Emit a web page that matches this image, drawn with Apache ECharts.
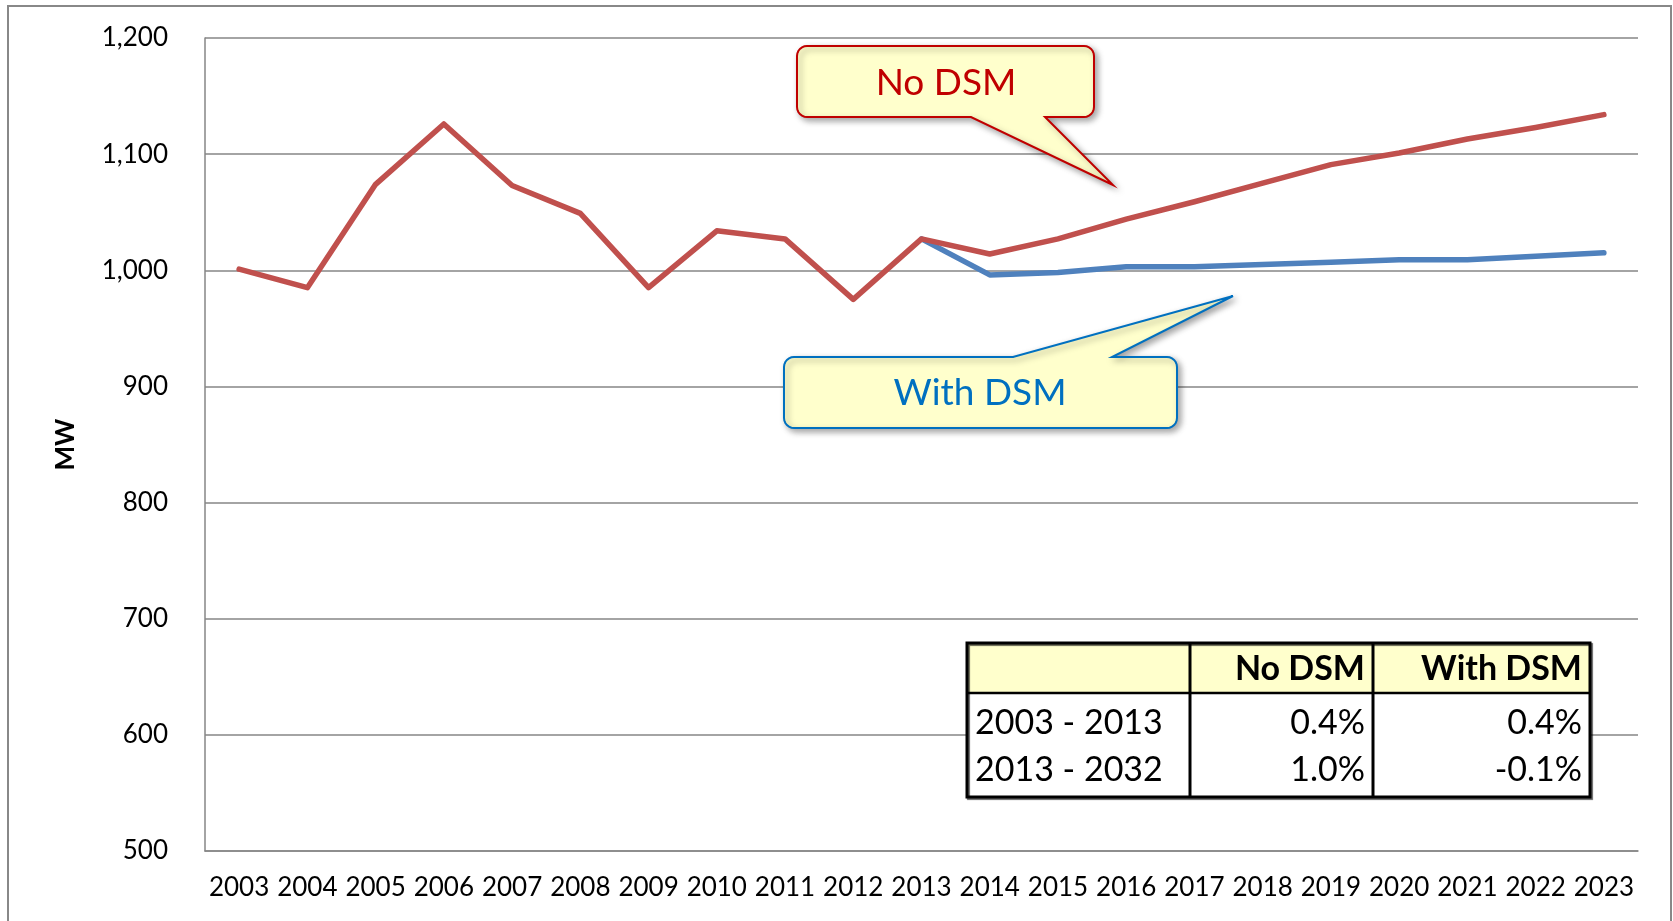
<!DOCTYPE html>
<html>
<head>
<meta charset="utf-8">
<script src="https://cdn.jsdelivr.net/npm/echarts@6/dist/echarts.min.js"></script>
<style>
html,body{margin:0;padding:0;background:#fff;}
#chart{width:1673px;height:921px;}
</style>
</head>
<body>
<div id="chart"></div>
<script>
// ---- data ----
const years = ['2003','2004','2005','2006','2007','2008','2009','2010','2011','2012','2013',
               '2014','2015','2016','2017','2018','2019','2020','2021','2022','2023'];
const noDsm = [1001, 985, 1074, 1126, 1073, 1049, 985, 1034, 1027, 975, 1027,
               1014, 1027, 1044, 1059, 1075, 1091, 1101, 1113, 1123, 1134];
const withDsm = [null, null, null, null, null, null, null, null, null, null, 1027,
                 996, 998, 1003, 1003, 1005, 1007, 1009, 1009, 1012, 1015];
const yMin = 500, yMax = 1200, yStep = 100;
const tableHeader = ['', 'No DSM', 'With DSM'];
const tableRows = [
  ['2003 - 2013', '0.4%', '0.4%'],
  ['2013 - 2032', '1.0%', '-0.1%']
];
const calloutNo = 'No DSM';
const calloutWith = 'With DSM';

// ---- chart ----
const FONT = 'Lato, "Open Sans", sans-serif';
const chart = echarts.init(document.getElementById('chart'), null, {renderer: 'canvas'});

function arcPts(cx, cy, r, a0, a1) {
  const pts = [];
  const n = 6;
  for (let i = 0; i <= n; i++) {
    const a = a0 + (a1 - a0) * i / n;
    pts.push([cx + r * Math.cos(a), cy + r * Math.sin(a)]);
  }
  return pts;
}
function calloutPts(x1, y1, x2, y2, r, tail) {
  let pts = [];
  const P = Math.PI;
  pts = pts.concat(arcPts(x1 + r, y1 + r, r, P, 1.5 * P));
  if (tail.side === 'top') {
    pts.push([tail.b1, y1], tail.tip, [tail.b2, y1]);
  }
  pts = pts.concat(arcPts(x2 - r, y1 + r, r, 1.5 * P, 2 * P));
  pts = pts.concat(arcPts(x2 - r, y2 - r, r, 0, 0.5 * P));
  if (tail.side === 'bottom') {
    pts.push([tail.b2, y2], tail.tip, [tail.b1, y2]);
  }
  pts = pts.concat(arcPts(x1 + r, y2 - r, r, 0.5 * P, P));
  return pts;
}

// table graphic
const colX = [967, 1190, 1373, 1590];
const rowTop = 643, rowHead = 693, rowBottom = 797;
const rowCenters = [723, 770];
const tableEls = [];
tableEls.push({type: 'rect', shape: {x: colX[0], y: rowTop, width: colX[3]-colX[0], height: rowHead-rowTop},
  style: {fill: '#FFFFCC'}, z: 100});
tableEls.push({type: 'rect', shape: {x: colX[0], y: rowHead, width: colX[3]-colX[0], height: rowBottom-rowHead},
  style: {fill: '#FFFFFF'}, z: 100});
for (let c = 1; c < 3; c++) {
  tableEls.push({type: 'text', z: 102, style: {text: tableHeader[c], x: colX[c+1]-8, y: (rowTop+rowHead)/2+1,
    align: 'right', verticalAlign: 'middle', font: 'bold 34px ' + FONT, fill: '#000'}});
}
tableRows.forEach((row, r) => {
  const cy = rowCenters[r];
  tableEls.push({type: 'text', z: 102, style: {text: row[0], x: colX[0]+8, y: cy,
    align: 'left', verticalAlign: 'middle', font: '34px ' + FONT, fill: '#000'}});
  for (let c = 1; c < 3; c++) {
    tableEls.push({type: 'text', z: 102, style: {text: row[c], x: colX[c+1]-8, y: cy,
      align: 'right', verticalAlign: 'middle', font: '34px ' + FONT, fill: '#000'}});
  }
});
tableEls.push({type: 'rect', z: 103, shape: {x: colX[0], y: rowTop, width: colX[3]-colX[0], height: rowBottom-rowTop},
  style: {fill: 'none', stroke: '#000', lineWidth: 3, shadowColor: 'rgba(0,0,0,0.6)', shadowOffsetX: 1.5, shadowOffsetY: 1.5, shadowBlur: 1}});
tableEls.push({type: 'line', z: 103, shape: {x1: colX[0], y1: rowHead, x2: colX[3], y2: rowHead}, style: {stroke: '#000', lineWidth: 2.5}});
tableEls.push({type: 'line', z: 103, shape: {x1: colX[1], y1: rowTop, x2: colX[1], y2: rowBottom}, style: {stroke: '#000', lineWidth: 3}});
tableEls.push({type: 'line', z: 103, shape: {x1: colX[2], y1: rowTop, x2: colX[2], y2: rowBottom}, style: {stroke: '#000', lineWidth: 3}});

const calloutShadow = {shadowColor: 'rgba(0,0,0,0.35)', shadowBlur: 6, shadowOffsetX: 3, shadowOffsetY: 3};

const option = {
  backgroundColor: '#fff',
  animation: false,
  grid: {left: 205, right: 35, top: 38, bottom: 70, containLabel: false},
  xAxis: {
    type: 'category', data: years, boundaryGap: true,
    axisLine: {show: true, lineStyle: {color: '#868686', width: 1.5}},
    axisTick: {show: false},
    axisLabel: {interval: 0, color: '#000', fontFamily: FONT, fontSize: 26, margin: 24}
  },
  yAxis: {
    type: 'value', min: yMin, max: yMax, interval: yStep,
    name: 'MW', nameLocation: 'middle', nameGap: 126, nameRotate: 90,
    nameTextStyle: {color: '#000', fontFamily: FONT, fontSize: 26, fontWeight: 'bold'},
    axisLine: {show: true, lineStyle: {color: '#868686', width: 1.5}},
    axisTick: {show: false},
    splitLine: {show: true, lineStyle: {color: '#868686', width: 1.5}},
    axisLabel: {color: '#000', fontFamily: FONT, fontSize: 26, margin: 37,
      formatter: v => v.toLocaleString('en-US')}
  },
  series: [
    {name: 'With DSM', type: 'line', data: withDsm, showSymbol: false, symbol: 'none',
     lineStyle: {color: '#4F81BD', width: 5.5, join: 'round', cap: 'round'}, z: 2},
    {name: 'No DSM', type: 'line', data: noDsm, showSymbol: false, symbol: 'none',
     lineStyle: {color: '#C0504D', width: 5.5, join: 'round', cap: 'round'}, z: 3}
  ],
  graphic: [
    {type: 'rect', shape: {x: 8, y: 6, width: 1663, height: 940}, style: {fill: 'none', stroke: '#888', lineWidth: 2}, z: 1, silent: true},
    {type: 'polygon', z: 110,
     shape: {points: calloutPts(797, 46, 1094, 117, 10, {side: 'bottom', b1: 971, b2: 1045, tip: [1113, 185]})},
     style: Object.assign({fill: '#FFFFCC', stroke: '#C00000', lineWidth: 2}, calloutShadow)},
    {type: 'text', z: 111, style: {text: calloutNo, x: 946, y: 83, align: 'center', verticalAlign: 'middle',
      font: '37px ' + FONT, fill: '#C00000'}},
    {type: 'polygon', z: 110,
     shape: {points: calloutPts(784, 357, 1177, 428, 10, {side: 'top', b1: 1013, b2: 1112, tip: [1233, 296]})},
     style: Object.assign({fill: '#FFFFCC', stroke: '#0070C0', lineWidth: 2}, calloutShadow)},
    {type: 'text', z: 111, style: {text: calloutWith, x: 980, y: 393, align: 'center', verticalAlign: 'middle',
      font: '37px ' + FONT, fill: '#0070C0'}}
  ].concat(tableEls)
};
chart.setOption(option);
</script>
</body>
</html>
